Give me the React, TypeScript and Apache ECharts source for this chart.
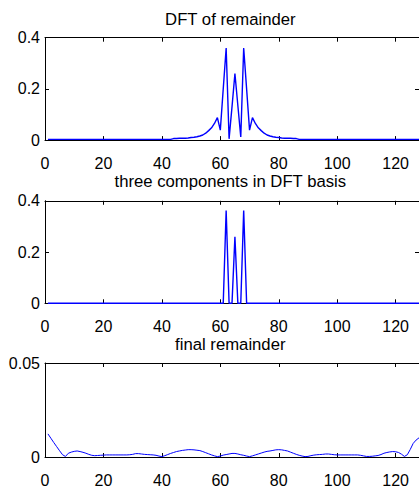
import React, { useEffect, useRef } from "react";
import * as echarts from "echarts";

const titles = ["DFT of remainder", "three components in DFT basis", "final remainder"];
const xTicks = [0, 20, 40, 60, 80, 100, 120];
const yMaxes = [0.4, 0.4, 0.05];
const yIntervals = [0.2, 0.2, 0.05];

const sampleIndex = [
  1, 2, 3, 4, 5, 6, 7, 8, 9, 10, 11, 12, 13, 14, 15, 16,
  17, 18, 19, 20, 21, 22, 23, 24, 25, 26, 27, 28, 29, 30, 31, 32,
  33, 34, 35, 36, 37, 38, 39, 40, 41, 42, 43, 44, 45, 46, 47, 48,
  49, 50, 51, 52, 53, 54, 55, 56, 57, 58, 59, 60, 61, 62, 63, 64,
  65, 66, 67, 68, 69, 70, 71, 72, 73, 74, 75, 76, 77, 78, 79, 80,
  81, 82, 83, 84, 85, 86, 87, 88, 89, 90, 91, 92, 93, 94, 95, 96,
  97, 98, 99, 100, 101, 102, 103, 104, 105, 106, 107, 108, 109, 110, 111, 112,
  113, 114, 115, 116, 117, 118, 119, 120, 121, 122, 123, 124, 125, 126, 127, 128,
];

const dftRemainder = [
  0.003, 0.003, 0.003, 0.003, 0.003, 0.003, 0.003, 0.003, 0.003, 0.003, 0.003, 0.003, 0.003, 0.003, 0.003, 0.003,
  0.003, 0.003, 0.003, 0.003, 0.003, 0.003, 0.003, 0.003, 0.003, 0.003, 0.003, 0.003, 0.003, 0.003, 0.003, 0.003,
  0.003, 0.003, 0.003, 0.003, 0.003, 0.003, 0.003, 0.003, 0.003, 0.003, 0.003, 0.006, 0.006, 0.007, 0.007, 0.007,
  0.008, 0.010, 0.011, 0.013, 0.016, 0.020, 0.027, 0.037, 0.048, 0.065, 0.088, 0.039, 0.20, 0.36, 0.005, 0.13,
  0.26, 0.135, 0.012, 0.36, 0.20, 0.039, 0.088, 0.065, 0.048, 0.037, 0.027, 0.020, 0.016, 0.013, 0.011, 0.010,
  0.008, 0.007, 0.007, 0.007, 0.006, 0.006, 0.003, 0.003, 0.003, 0.003, 0.003, 0.003, 0.003, 0.003, 0.003, 0.003,
  0.003, 0.003, 0.003, 0.003, 0.003, 0.003, 0.003, 0.003, 0.003, 0.003, 0.003, 0.003, 0.003, 0.003, 0.003, 0.003,
  0.003, 0.003, 0.003, 0.003, 0.003, 0.003, 0.003, 0.003, 0.003, 0.003, 0.003, 0.003, 0.003, 0.003, 0.003, 0.003,
];

const threeComponents = [
  0, 0, 0, 0, 0, 0, 0, 0, 0, 0, 0, 0, 0, 0, 0, 0,
  0, 0, 0, 0, 0, 0, 0, 0, 0, 0, 0, 0, 0, 0, 0, 0,
  0, 0, 0, 0, 0, 0, 0, 0, 0, 0, 0, 0, 0, 0, 0, 0,
  0, 0, 0, 0, 0, 0, 0, 0, 0, 0, 0, 0, 0, 0.362, 0, 0,
  0.26, 0, 0, 0.362, 0, 0, 0, 0, 0, 0, 0, 0, 0, 0, 0, 0,
  0, 0, 0, 0, 0, 0, 0, 0, 0, 0, 0, 0, 0, 0, 0, 0,
  0, 0, 0, 0, 0, 0, 0, 0, 0, 0, 0, 0, 0, 0, 0, 0,
  0, 0, 0, 0, 0, 0, 0, 0, 0, 0, 0, 0, 0, 0, 0, 0,
];

const finalRemainder = [
  0.0123, 0.0100, 0.0077, 0.0055, 0.0033, 0.0012, 0.0003, 0.0020, 0.0026, 0.0030, 0.0032, 0.0029, 0.0025, 0.0020, 0.0014, 0.0009,
  0.0007, 0.0008, 0.0009, 0.0010, 0.0011, 0.0011, 0.0011, 0.0011, 0.0011, 0.0011, 0.0011, 0.0011, 0.0012, 0.0014, 0.0018, 0.0018,
  0.0016, 0.0014, 0.0013, 0.0012, 0.0011, 0.0009, 0.0005, 0.0002, 0.0007, 0.0013, 0.0019, 0.0024, 0.0029, 0.0032, 0.0035, 0.0037,
  0.0039, 0.0039, 0.0038, 0.0036, 0.0034, 0.0029, 0.0023, 0.0017, 0.0011, 0.0006, 0.0002, 0.0005, 0.0010, 0.0013, 0.0016, 0.0019,
  0.0019, 0.0016, 0.0012, 0.0009, 0.0005, 0.0002, 0.0006, 0.0011, 0.0016, 0.0021, 0.0026, 0.0030, 0.0032, 0.0035, 0.0038, 0.0039,
  0.0038, 0.0035, 0.0032, 0.0026, 0.0020, 0.0014, 0.0009, 0.0005, 0.0002, 0.0003, 0.0007, 0.0010, 0.0012, 0.0013, 0.0014, 0.0016,
  0.0016, 0.0014, 0.0012, 0.0011, 0.0011, 0.0011, 0.0011, 0.0011, 0.0011, 0.0011, 0.0011, 0.0009, 0.0006, 0.0003, 0.0003, 0.0004,
  0.0006, 0.0008, 0.0013, 0.0020, 0.0024, 0.0027, 0.0029, 0.0028, 0.0024, 0.0015, 0.0003, 0.0012, 0.0040, 0.0072, 0.0090, 0.0102,
];

const seriesValues = [dftRemainder, threeComponents, finalRemainder];

const FONT = "'Liberation Sans', Arial, Helvetica, sans-serif";
const gridTops = [37.7, 200.8, 363];
const gridHeights = [102.4, 102.5, 103];
const titleTops = [11, 172.7, 336];
const lineWidths = [1.4, 1.4, 1];

export default function App() {
  const ref = useRef<HTMLDivElement>(null);
  useEffect(() => {
    if (!ref.current) return;
    const chart = echarts.init(ref.current, null, { renderer: "svg" });
    const grids: any[] = [];
    const xAxes: any[] = [];
    const yAxes: any[] = [];
    const series: any[] = [];
    const titleArr: any[] = [];
    for (let g = 0; g < 3; g++) {
      grids.push({ left: 45, top: gridTops[g], width: 374.4, height: gridHeights[g], containLabel: false });
      titleArr.push({
        text: titles[g],
        left: 230.3,
        top: titleTops[g],
        padding: 0,
        textAlign: "center",
        textStyle: { fontFamily: FONT, fontSize: 16.7, fontWeight: "normal", color: "#000" },
      });
      const common = {
        gridIndex: g,
        type: "value",
        min: 0,
        max: 128,
        interval: 20,
        splitLine: { show: false },
        axisLine: { show: true, onZero: false, lineStyle: { color: "#000", width: 1 } },
        axisTick: { show: true, inside: true, length: 4, lineStyle: { color: "#000", width: 1 } },
      };
      xAxes.push({
        ...common,
        position: "bottom",
        axisLabel: {
          show: true,
          margin: 15,
          fontFamily: FONT,
          fontSize: 16,
          color: "#000",
          showMaxLabel: false,
          formatter: (v: number) => (xTicks.indexOf(v) >= 0 ? String(v) : ""),
        },
      });
      xAxes.push({ ...common, position: "top", axisLabel: { show: false } });
      const ycommon = {
        gridIndex: g,
        type: "value",
        min: 0,
        max: yMaxes[g],
        interval: yIntervals[g],
        splitLine: { show: false },
        axisLine: { show: true, onZero: false, lineStyle: { color: "#000", width: 1 } },
        axisTick: { show: true, inside: true, length: 4, lineStyle: { color: "#000", width: 1 } },
      };
      yAxes.push({
        ...ycommon,
        position: "left",
        axisLabel: {
          show: true,
          margin: 5,
          fontFamily: FONT,
          fontSize: 16,
          color: "#000",
          formatter: (v: number) => String(Math.round(v * 1000) / 1000),
        },
      });
      yAxes.push({ ...ycommon, position: "right", axisLabel: { show: false } });
      series.push({
        type: "line",
        xAxisIndex: g * 2,
        yAxisIndex: g * 2,
        data: sampleIndex.map((x, i) => [x, seriesValues[g][i]]),
        showSymbol: false,
        symbol: "none",
        lineStyle: { color: "#0000ff", width: lineWidths[g] },
        itemStyle: { color: "#0000ff" },
        clip: true,
      });
    }
    chart.setOption({
      animation: false,
      backgroundColor: "#fff",
      title: titleArr,
      grid: grids,
      xAxis: xAxes,
      yAxis: yAxes,
      series,
    });
    return () => chart.dispose();
  }, []);
  return (
    <div
      ref={ref}
      style={{ position: "fixed", left: 0, top: 0, width: 419, height: 488 }}
    />
  );
}
